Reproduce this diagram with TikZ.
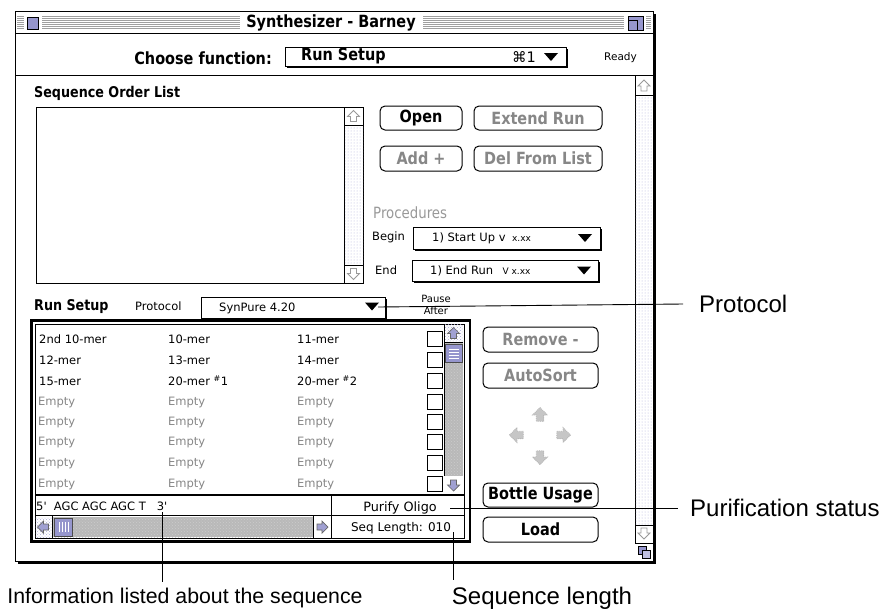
\documentclass[tikz,border=0pt]{standalone}
\usepackage{fontspec}
\setmainfont{DejaVu Sans}
\newfontfamily\chicfont[FakeStretch=0.86]{DejaVu Sans}
\newfontfamily\genfont{DejaVu Sans}
\newfontfamily\helvfont{Liberation Sans}
\usetikzlibrary{patterns}
\definecolor{lav}{RGB}{150,150,205}
\definecolor{dimtxt}{RGB}{135,135,135}
\definecolor{trackgray}{RGB}{185,185,185}
\tikzset{
  chic/.style={font={\fontsize{14.8}{16}\chicfont\bfseries}, inner sep=0pt},
  chicL/.style={font={\fontsize{16.8}{18}\chicfont\bfseries}, inner sep=0pt},
  gen/.style={font={\fontsize{11.5}{13}\genfont}, inner sep=0pt},
  small/.style={font={\fontsize{10.5}{11}\genfont}, inner sep=0pt},
  tiny/.style={font={\fontsize{10}{12}\genfont}, inner sep=0pt},
  callout/.style={font={\fontsize{24}{26}\helvfont}, inner sep=0pt},
  dim/.style={text=dimtxt},
  btn/.style={draw, line width=1, rounded corners=5pt, fill=white},
  lightdots/.style={pattern=dots, pattern color=lav!70},
  leader/.style={line width=0.9},
  uparr/.pic={\draw[pic actions] (0,-6)--(6,0)--(3,0)--(3,5)--(-3,5)--(-3,0)--(-6,0)--cycle;},
  tri/.pic={\fill (-7,-4)--(7,-4)--(0,4)--cycle;},
}
\begin{document}
\begin{tikzpicture}[x=1pt,y=-1pt]
\useasboundingbox (0,0) rectangle (891,611);
% ---------------- window ----------------
\fill (17.5,13.5) rectangle (655.5,563.5);
\draw[fill=white, line width=1] (15,11) rectangle (653,561);
% title bar
\foreach \yy in {16,18,...,28} {
  \draw[gray!75, line width=0.7] (17,\yy) -- (24,\yy) (42,\yy) -- (240,\yy) (423,\yy) -- (624,\yy) (646,\yy) -- (651,\yy);
}
\draw[fill=lav, line width=0.8] (27,17) rectangle (38,29);
\draw[fill=lav, line width=0.8] (628,16) rectangle (643,30);
\draw[line width=0.8] (628,20) -- (637,20) -- (637,30);
\node[chicL] (title) at (331,22.5) {Synthesizer - Barney};
\draw[line width=1] (15,33) -- (653,33);
% header
\node[chicL, anchor=east] (choose) at (272,58) {Choose function:};
\fill (287,49) rectangle (568,68);
\draw[fill=white, line width=1] (285,47) rectangle (566,66);
\node[chicL, anchor=west] (runsetup) at (301,56) {Run Setup};
\node[gen, anchor=west, font={\fontsize{14.5}{15}\genfont}] (cmd) at (512,57) {⌘1};
\pic at (551,57) {tri};
\node[small, anchor=west] (ready) at (604,58) {Ready};
\draw[line width=1] (15,75) -- (653,75);
% right window scroll bar
\draw[fill=white, line width=0.8] (635,75) rectangle (653,543);
\fill[lightdots] (635,95) rectangle (653,525);
\draw[line width=0.8] (635,95) -- (653,95) (635,525) -- (653,525) (635,543) -- (653,543);
\pic[draw=gray!80, fill=white, line width=0.8] at (644,86) {uparr};
\pic[draw=gray!80, fill=white, line width=0.8, rotate=180] at (644,533) {uparr};
\draw[fill=lav, line width=0.7] (638,546) rectangle (646,554);
\draw[fill=lav!60, line width=0.7] (642,550) rectangle (650,558);
% ---------------- sequence order list ----------------
\node[chic, anchor=west] (sol) at (34,93) {Sequence Order List};
\draw[line width=1] (36,107) rectangle (363,283);
\fill[lightdots] (344,125) rectangle (363,265);
\draw[line width=0.8] (344,107) -- (344,283) (344,125) -- (363,125) (344,265) -- (363,265);
\pic[draw=gray!80, fill=white, line width=0.8] at (353.5,116.5) {uparr};
\pic[draw=gray!80, fill=white, line width=0.8, rotate=180] at (353.5,273.5) {uparr};
% buttons
\draw[btn] (380,106) rectangle (462,130);
\node[chicL] (open) at (421,118) {Open};
\draw[btn] (474,106) rectangle (602,130);
\node[chicL, dim] (extend) at (538,118) {Extend Run};
\draw[btn] (380,146) rectangle (462,171);
\node[chicL, dim] (add) at (421,158.5) {Add +};
\draw[btn] (474,146) rectangle (602,171);
\node[chicL, dim] (del) at (538,158.5) {Del From List};
% procedures
\node[anchor=west, inner sep=0pt, text=gray!80, font={\fontsize{15.5}{16}\chicfont}] (proc) at (373,213) {Procedures};
\node[gen, anchor=west] (begin) at (372,237) {Begin};
\fill (415,229) rectangle (602,251);
\draw[fill=white, line width=1] (413,227) rectangle (600,249);
\node[gen, anchor=west] (beginval) at (432,238) {1) Start Up v \fontsize{9}{10}\selectfont\ x.xx};
\pic at (585,238) {tri};
\node[gen, anchor=west] (end) at (375,270) {End};
\fill (414,262) rectangle (600,283);
\draw[fill=white, line width=1] (412,260) rectangle (598,281);
\node[gen, anchor=west] (endval) at (430,271) {1) End Run \fontsize{9}{10}\selectfont\ \ V x.xx};
\pic at (584,270.5) {tri};
% ---------------- run setup ----------------
\node[chic, anchor=west] (rs) at (34,307) {Run Setup};
\node[gen, anchor=west] (protlbl) at (135,306) {Protocol};
\fill (203,299) rectangle (387,320);
\draw[fill=white, line width=1] (201,297) rectangle (385,318);
\node[gen, anchor=west] (synpure) at (219,308) {SynPure 4.20};
\pic at (372,306.5) {tri};
\coordinate (protend) at (378,307);
\node[tiny, align=center] (pause) at (436,304.5) {Pause\\After};
% grid frame
\draw[line width=2.5] (31.5,320.5) rectangle (470,541.5);
\draw[line width=1] (35,324) rectangle (464.5,538);
\draw[line width=2] (35,495) -- (464.5,495);
\draw[line width=1] (35,515.5) -- (464.5,515.5);
\draw[line width=1] (331,495) -- (331,538);
% grid scrollbar
\fill[trackgray] (444,342) rectangle (463,476);
\fill[pattern=crosshatch dots, pattern color=gray!40] (444,342) rectangle (463,476);
\fill[pattern=crosshatch dots, pattern color=lav!80] (444,324) rectangle (463,342);
\draw[line width=0.8] (444,324) -- (444,494) (444,342) -- (463,342) (444,476) -- (463,476);
\pic[draw=black!60, fill=lav!90, line width=0.7] at (453.5,333.5) {uparr};
\draw[fill=lav, draw=black!70, line width=0.6] (445.5,344) rectangle (462,362);
\foreach \yy in {349,352,355,358} \draw[white, line width=0.6] (449,\yy) -- (459,\yy);
\fill[white] (444.4,476.4) rectangle (463,494);
\pic[draw=black!60, fill=lav!90, line width=0.7, rotate=180] at (453.5,485) {uparr};
% check boxes and rows
\foreach \yy [count=\i] in {339,360,381,402,422,442,463,484} {
  \draw[line width=1] (427,\yy-7.5) rectangle (442,\yy+7.5);
}
\node[gen, anchor=west] (r1a) at (39,339) {2nd 10-mer};
\node[gen, anchor=west] (r1b) at (168,339) {10-mer};
\node[gen, anchor=west] (r1c) at (297,339) {11-mer};
\node[gen, anchor=west] (r2a) at (39,360) {12-mer};
\node[gen, anchor=west] (r2b) at (168,360) {13-mer};
\node[gen, anchor=west] (r2c) at (297,360) {14-mer};
\node[gen, anchor=west] (r3a) at (39,381) {15-mer};
\node[gen, anchor=west] (r3b) at (168,381) {20-mer $^{\#}$1};
\node[gen, anchor=west] (r3c) at (297,381) {20-mer $^{\#}$2};
\foreach \yy [count=\i] in {402,422,442,463,484} {
  \node[gen, dim, anchor=west] (e\i a) at (38,\yy) {Empty};
  \node[gen, dim, anchor=west] (e\i b) at (168,\yy) {Empty};
  \node[gen, dim, anchor=west] (e\i c) at (297,\yy) {Empty};
}
% bottom of grid
\node[gen, anchor=west] (seq) at (36,506) {5'\ \ AGC AGC AGC T\ \ \ 3'};
\coordinate (seqend) at (162,512);
\node[gen, font={\fontsize{12.8}{14}\genfont}] (purify) at (400,508) {Purify Oligo};
\coordinate (purend) at (450,508);
\node[gen, font={\fontsize{12}{14}\genfont}] (seqlen) at (401,528) {Seq Length: 010};
\coordinate (lenend) at (453,532);
% horizontal scroll bar
\fill[trackgray] (52,517) rectangle (313,537);
\fill[pattern=crosshatch dots, pattern color=gray!40] (52,517) rectangle (313,537);
\fill[pattern=crosshatch dots, pattern color=lav!80] (35.5,517) rectangle (52,537);
\draw[line width=0.8] (52,516) -- (52,538) (313,516) -- (313,538);
\pic[draw=black!60, fill=lav!90, line width=0.7, rotate=90] at (43.5,527) {uparr};
\draw[fill=lav, draw=black!70, line width=0.6] (54,518) rectangle (72,536.5);
\foreach \xx in {59,62,65,68} \draw[white, line width=0.6] (\xx,522) -- (\xx,532);
\fill[white] (313.5,516.5) rectangle (330.5,537.5);
\pic[draw=black!60, fill=lav!90, line width=0.7, rotate=-90] at (322,527) {uparr};
% right side buttons
\draw[btn] (483,327) rectangle (598,352);
\node[chicL, dim] (remove) at (540.5,339.5) {Remove -};
\draw[btn] (483,363) rectangle (598,388);
\node[chicL, dim] (autosort) at (540.5,375.5) {AutoSort};
\pic[draw=gray!60, densely dotted, fill=gray!45, line width=0.8, scale=1.25] at (540,415) {uparr};
\pic[draw=gray!60, densely dotted, fill=gray!45, line width=0.8, scale=1.25, rotate=90] at (517,435) {uparr};
\pic[draw=gray!60, densely dotted, fill=gray!45, line width=0.8, scale=1.25, rotate=-90] at (563,435) {uparr};
\pic[draw=gray!60, densely dotted, fill=gray!45, line width=0.8, scale=1.25, rotate=180] at (540,457) {uparr};
\draw[btn] (483,483) rectangle (598,507);
\node[chicL] (bottle) at (540.5,495) {Bottle Usage};
\draw[btn] (483,517) rectangle (598,542);
\node[chicL] (load) at (540.5,529.5) {Load};
% ---------------- callouts ----------------
\node[callout, anchor=west] (cprot) at (699,304) {Protocol};
\node[callout, anchor=west] (cpur) at (690,508) {Purification status};
\node[callout] (clen) at (542,598) {Sequence length};
\node[callout, font={\fontsize{21.3}{24}\helvfont}] (cinfo) at (185,598) {Information listed about the sequence};
\draw[leader] (protend) -- (cprot.west -| 683,0);
\draw[leader] (purend) -- (cpur.west -| 678,0);
\draw[leader] (lenend) -- (lenend |- 0,580);
\draw[leader] (seqend) -- (seqend |- 0,582);
\end{tikzpicture}
\end{document}
